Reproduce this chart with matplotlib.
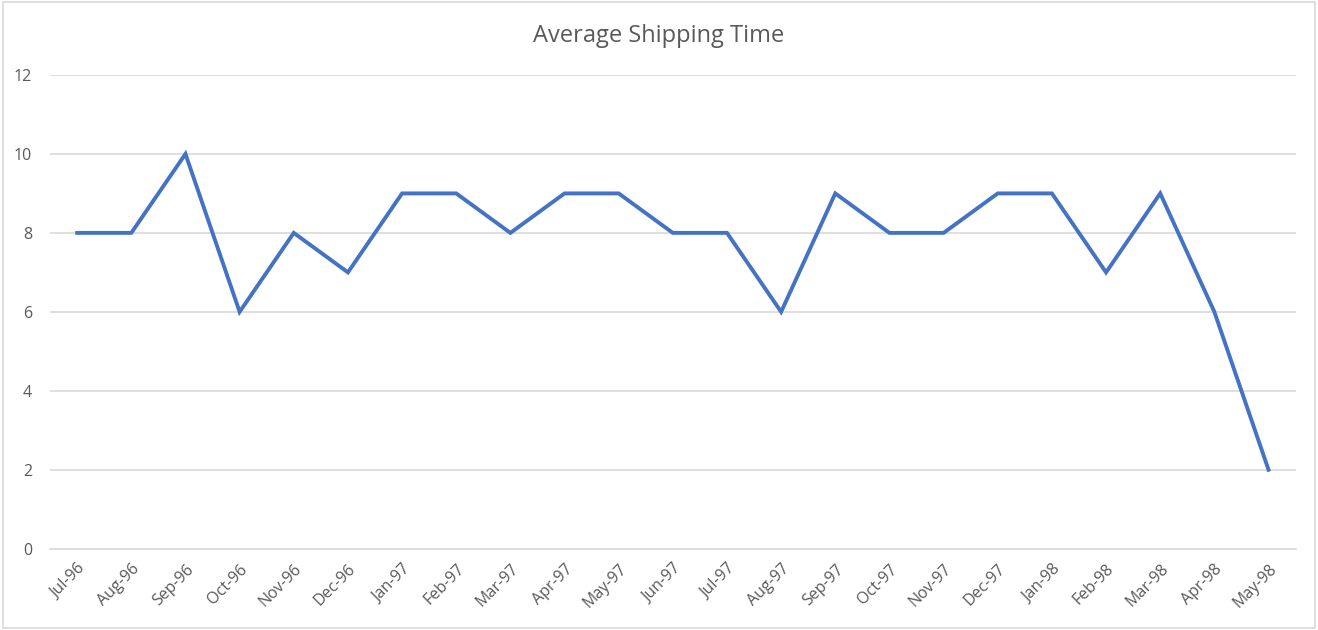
import matplotlib
matplotlib.use("Agg")
import matplotlib.pyplot as plt
from matplotlib.patches import Rectangle

# Données
months = ['Jul-96', 'Aug-96', 'Sep-96', 'Oct-96', 'Nov-96', 'Dec-96',
          'Jan-97', 'Feb-97', 'Mar-97', 'Apr-97', 'May-97', 'Jun-97',
          'Jul-97', 'Aug-97', 'Sep-97', 'Oct-97', 'Nov-97', 'Dec-97',
          'Jan-98', 'Feb-98', 'Mar-98', 'Apr-98', 'May-98']
avg_days = [8, 8, 10, 6, 8, 7, 9, 9, 8, 9, 9, 8, 8, 6, 9, 8, 8, 9, 9, 7, 9, 6, 2]
y_ticks = [0, 2, 4, 6, 8, 10, 12]

plt.rcParams['font.family'] = ['Open Sans', 'DejaVu Sans']
text_color = '#595959'

fig = plt.figure(figsize=(13.18, 6.3), dpi=100)
ax = fig.add_axes([0.038, 0.129, 0.945, 0.752])

x = list(range(len(months)))
ax.plot(x, avg_days, color='#4472C4', linewidth=2.8, solid_joinstyle='miter')

ax.set_xlim(-0.5, len(months) - 0.5)
ax.set_ylim(0, 12)
ax.set_yticks(y_ticks)
ax.set_xticks(x)
ax.set_xticklabels(months, rotation=45, ha='right', rotation_mode='anchor')
ax.tick_params(axis='both', length=0, colors=text_color, labelsize=11.5)
ax.tick_params(axis='y', pad=13)
ax.tick_params(axis='x', pad=9)

ax.grid(axis='y', color='#D9D9D9', linewidth=1.2)
ax.set_axisbelow(True)
for s in ['top', 'right', 'left']:
    ax.spines[s].set_visible(False)
ax.spines['bottom'].set_color('#D9D9D9')
ax.spines['bottom'].set_linewidth(1.2)

fig.text(0.5, 0.943, 'Average Shipping Time', ha='center', va='center',
         fontsize=17, color=text_color)

# cadre autour de la figure
fig.patches.append(Rectangle((0.002, 0.003), 0.996, 0.994, transform=fig.transFigure,
                             fill=False, edgecolor='#D9D9D9', linewidth=1.2))

fig.savefig('out.png', dpi=100)
